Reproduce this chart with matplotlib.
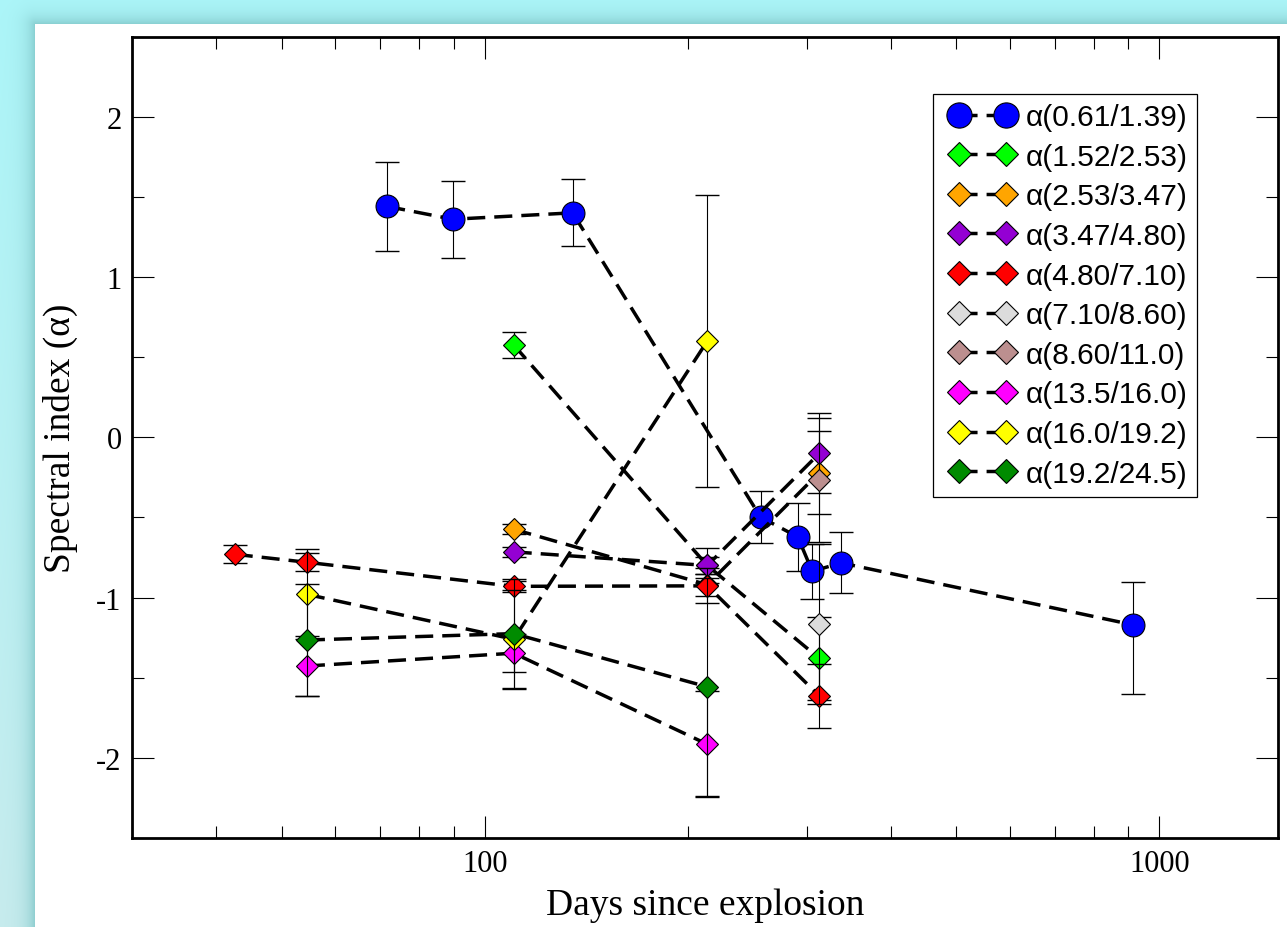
import numpy as np
import matplotlib
matplotlib.use("Agg")
import matplotlib.pyplot as plt
from matplotlib.lines import Line2D
from matplotlib.legend_handler import HandlerLine2D
from matplotlib.ticker import LogLocator, MultipleLocator, NullFormatter, FixedLocator

plt.rcParams['axes.unicode_minus'] = False

# ---------------- data ----------------
labels = ["α(0.61/1.39)", "α(1.52/2.53)", "α(2.53/3.47)", "α(3.47/4.80)",
          "α(4.80/7.10)", "α(7.10/8.60)", "α(8.60/11.0)", "α(13.5/16.0)",
          "α(16.0/19.2)", "α(19.2/24.5)"]
colors = ["#0000ff", "#00ff00", "#ffa500", "#9400d3", "#ff0000",
          "#dcdcdc", "#bc8f8f", "#ff00ff", "#ffff00", "#008b00"]
markers = ["o", "D", "D", "D", "D", "D", "D", "D", "D", "D"]

days_blue = [71.7, 89.7, 135.0, 256.4, 291.2, 305.9, 337.7, 914.0]
alpha_blue = [1.44, 1.36, 1.40, -0.498, -0.622, -0.836, -0.784, -1.17]
err_blue_lo = [0.28, 0.24, 0.21, 0.16, 0.21, 0.17, 0.19, 0.43]
err_blue_hi = [0.28, 0.24, 0.21, 0.16, 0.21, 0.17, 0.19, 0.27]

days_green = [110.4, 213.8, 313.5]
alpha_green = [0.576, -0.80, -1.38]
err_green = [0.08, 0.05, 0.26]

days_orange = [110.4, 213.8, 313.5]
alpha_orange = [-0.574, -0.92, -0.22]
err_orange = [0.03, 0.07, 0.26]

days_purple = [110.4, 213.8, 313.5]
alpha_purple = [-0.715, -0.80, -0.10]
err_purple = [0.03, 0.107, 0.25]

days_red = [42.6, 54.5, 110.4, 213.8, 313.5]
alpha_red = [-0.73, -0.78, -0.93, -0.927, -1.614]
err_red = [0.055, 0.055, 0.035, 0.11, 0.20]

days_gray = [313.5]
alpha_gray = [-1.167]
err_gray = [0.50]

days_brown = [313.5]
alpha_brown = [-0.268]
err_brown = [0.385]

days_magenta = [54.5, 110.4, 213.8]
alpha_magenta = [-1.427, -1.347, -1.915]
err_magenta = [0.19, 0.12, 0.33]

days_yellow = [54.5, 110.4, 213.8]
alpha_yellow = [-0.98, -1.26, 0.60]
err_yellow = [0.28, 0.31, 0.91]

days_dgreen = [54.5, 110.4, 213.8]
alpha_dgreen = [-1.265, -1.225, -1.557]
err_dgreen = [0.35, 0.34, 0.68]

series = [
    (days_blue, alpha_blue, [err_blue_lo, err_blue_hi]),
    (days_green, alpha_green, err_green),
    (days_orange, alpha_orange, err_orange),
    (days_purple, alpha_purple, err_purple),
    (days_red, alpha_red, err_red),
    (days_gray, alpha_gray, err_gray),
    (days_brown, alpha_brown, err_brown),
    (days_magenta, alpha_magenta, err_magenta),
    (days_yellow, alpha_yellow, err_yellow),
    (days_dgreen, alpha_dgreen, err_dgreen),
]

x_ticks = [100, 1000]
x_ticklabels = ["100", "1000"]
y_ticks = [-2, -1, 0, 1, 2]

# ---------------- figure & background ----------------
W, H = 1287, 928
fig = plt.figure(figsize=(W / 100, H / 100), dpi=100)

yy, xx = np.mgrid[0:H, 0:W].astype(float)
px0, py0 = 35, 25
top_col = np.array([172, 246, 249]) / 255.0
bot_col = np.array([200, 236, 238]) / 255.0
t = (yy / H)[..., None]
base = top_col * (1 - t) + bot_col * t
dark = np.array([128, 198, 200]) / 255.0
dx = np.clip(px0 - xx, 0, None)
dy = np.clip(py0 - yy, 0, None)
d = np.sqrt(dx ** 2 + dy ** 2)
s = (np.exp(-d / 9.0) * 0.85)[..., None]
img = base * (1 - s) + dark * s
inside = (xx >= px0) & (yy >= py0)
img[inside] = 1.0
bg = fig.add_axes([0, 0, 1, 1], zorder=-10)
bg.imshow(img, aspect="auto", interpolation="nearest")
bg.set_axis_off()

# ---------------- main axes ----------------
L, R, T, B = 132, 1278, 37.5, 839
ax = fig.add_axes([L / W, 1 - B / H, (R - L) / W, (B - T) / H])
ax.set_facecolor("white")

for i, ((xd, yd, ed), col, mk) in enumerate(zip(series, colors, markers)):
    z = 3 + i * 0.1
    ax.errorbar(xd, yd, yerr=ed, fmt="none", ecolor="black", elinewidth=0.8,
                capsize=8.3, capthick=1.0, zorder=z)
    ms = 16.5 if mk == "o" else 11.4
    ax.plot(xd, yd, ls="--", dashes=(5.2, 2.6), color="black", lw=2.5,
            marker=mk, ms=ms, mfc=col, mec="black", mew=0.8,
            label=labels[i], zorder=z + 0.05)

ax.set_xscale("log")
ax.set_xlim(30, 1500)
ax.set_ylim(-2.5, 2.5)

ax.xaxis.set_major_locator(FixedLocator(x_ticks))
ax.set_xticks(x_ticks, x_ticklabels)
ax.xaxis.set_minor_locator(LogLocator(base=10, subs=np.arange(2, 10)))
ax.xaxis.set_minor_formatter(NullFormatter())
ax.set_yticks(y_ticks, [str(v) for v in y_ticks])
ax.yaxis.set_minor_locator(MultipleLocator(0.5))

ax.tick_params(which="both", direction="in", top=True, right=True)
ax.tick_params(which="major", length=16, width=0.8)
ax.tick_params(which="minor", length=8.5, width=0.8)
ax.tick_params(axis="y", which="major", pad=7.5)
ax.tick_params(axis="x", which="major", pad=8)
for lab in ax.get_xticklabels() + ax.get_yticklabels():
    lab.set_fontfamily("Liberation Serif")
    lab.set_fontsize(22)
for sp in ax.spines.values():
    sp.set_linewidth(2.0)

ax.set_xlabel("Days since explosion", fontsize=27, family="Liberation Serif", labelpad=7)
ax.set_ylabel("Spectral index (α)", fontsize=27, family="Liberation Serif", labelpad=13)

leg = ax.legend(loc="upper right",
                bbox_to_anchor=((1197 - L) / (R - L), (B - 95) / (B - T)),
                borderaxespad=0, frameon=True, fancybox=False,
                edgecolor="black", framealpha=1,
                prop={"family": "Liberation Sans", "size": 21.5},
                handlelength=2.72, handletextpad=0.1, labelspacing=0.39,
                borderpad=0.3, markerscale=1.1,
                handler_map={Line2D: HandlerLine2D(marker_pad=0.58, numpoints=2)})
leg.get_frame().set_linewidth(0.9)
leg.set_zorder(20)

fig.savefig("out.png", dpi=100)
